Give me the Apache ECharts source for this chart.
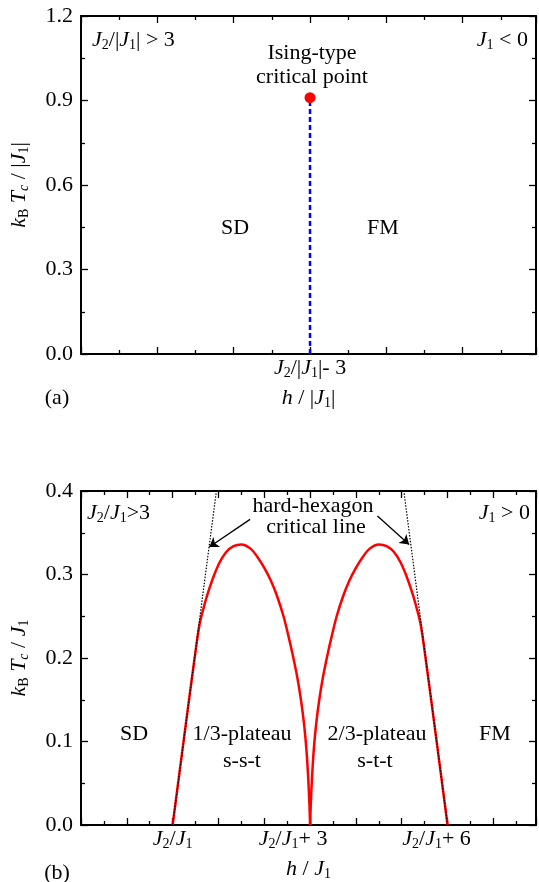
<!DOCTYPE html>
<html>
<head>
<meta charset="utf-8">
<script src="https://cdn.jsdelivr.net/npm/echarts@6/dist/echarts.min.js"></script>
<style>
  html, body { margin: 0; padding: 0; background: #fff; }
  #chart { width: 539px; height: 882px; }
</style>
</head>
<body>
<div id="chart"></div>
<script>
// ---- panel (a): J1 < 0, x in units of |J1| around J2/|J1| - 3 ----
const aRangeX = [0, 5.96];
const aRangeY = [0, 1.2];
const isingPoint = [[3, 0.91]];
const isingLine = [[3, 0], [3, 0.91]];
const aTickLabelX = { 3: '{i|J}{s|2}{n|/|}{i|J}{s|1}{n||- 3}' };

// ---- panel (b): J1 > 0, x measured from J2/J1 ----
const bRangeX = [-2, 7.93];
const bRangeY = [0, 0.4];
const domeLeft = [
  [0, 0], [0.25, 0.105], [0.48, 0.2], [0.59, 0.241], [0.7, 0.265], [0.8, 0.283],
  [0.91, 0.3], [1.03, 0.315], [1.17, 0.327], [1.33, 0.334], [1.5, 0.336], [1.7, 0.331],
  [1.85, 0.321], [2.0, 0.308], [2.14, 0.293], [2.28, 0.274], [2.42, 0.25], [2.52, 0.228],
  [2.62, 0.204], [2.72, 0.177], [2.8, 0.15], [2.87, 0.12], [2.92, 0.09], [2.96, 0.055],
  [2.985, 0.025], [3.0, 0]
];
const domeRight = [
  [3.0, 0], [3.015, 0.025], [3.04, 0.055], [3.08, 0.09], [3.13, 0.12], [3.2, 0.15],
  [3.28, 0.177], [3.38, 0.204], [3.48, 0.228], [3.58, 0.25], [3.72, 0.274], [3.86, 0.293],
  [4.0, 0.308], [4.15, 0.321], [4.3, 0.331], [4.5, 0.336], [4.67, 0.334], [4.83, 0.327],
  [4.97, 0.315], [5.09, 0.3], [5.2, 0.283], [5.3, 0.265], [5.41, 0.241], [5.52, 0.2],
  [5.75, 0.105], [6.0, 0]
];
const hexLineLeft = [[0, 0], [0.955, 0.4]];
const hexLineRight = [[6, 0], [5.045, 0.4]];
const arrowLeft = [[1.69, 0.366], [0.8, 0.333]];
const arrowRight = [[4.47, 0.37], [5.16, 0.336]];
const bTickLabelX = {
  0: '{i|J}{s|2}{n|/}{i|J}{s|1}',
  3: '{i|J}{s|2}{n|/}{i|J}{s|1}{n|+ 3}{g3| }',
  6: '{i|J}{s|2}{n|/}{i|J}{s|1}{n|+ 6}{g6| }'
};

const FONT = 'Liberation Serif';
const rich = {
  n: { fontFamily: FONT, fontSize: 22, color: '#000' },
  i: { fontFamily: FONT, fontSize: 22, fontStyle: 'italic', color: '#000' },
  s: { fontFamily: FONT, fontSize: 14, color: '#000', padding: [10, 0, 0, 0] },
  si: { fontFamily: FONT, fontSize: 14, fontStyle: 'italic', color: '#000', padding: [10, 0, 0, 0] },
  g3: { width: 34 },
  g6: { width: 22 }
};

const black = '#000';
const lineSt = { color: black, width: 2 };
const tickSt = { color: black, width: 1.3 };

function xAx(grid, range, pos, fmt, name) {
  return {
    gridIndex: grid, type: 'value', min: range[0], max: range[1], interval: 1,
    position: pos,
    axisLine: { onZero: false, lineStyle: lineSt },
    axisTick: { inside: true, length: 7, lineStyle: tickSt },
    minorTick: { show: true, splitNumber: 2, length: 4, lineStyle: tickSt },
    splitLine: { show: false },
    axisLabel: fmt ? { formatter: v => fmt[v] || '', rich: rich, margin: 2, hideOverlap: false,
                       showMinLabel: true, showMaxLabel: true } : { show: false },
    name: name || '', nameLocation: 'middle', nameGap: 32, nameTextStyle: { rich: rich }
  };
}
function yAx(grid, range, step, pos, showLabel, name) {
  return {
    gridIndex: grid, type: 'value', min: range[0], max: range[1], interval: step,
    position: pos,
    axisLine: { onZero: false, lineStyle: lineSt },
    axisTick: { inside: true, length: 7, lineStyle: tickSt },
    minorTick: { show: true, splitNumber: 2, length: 4, lineStyle: tickSt },
    splitLine: { show: false },
    axisLabel: showLabel ? { formatter: v => v.toFixed(1), fontFamily: FONT, fontSize: 22, color: black, margin: 8 } : { show: false },
    name: name || '', nameLocation: 'middle', nameGap: 50, nameTextStyle: { rich: rich }
  };
}

function txt(x, y, text, align) {
  return {
    type: 'text', x: x, y: y, z: 100,
    style: { text: text, rich: rich, align: align || 'center', verticalAlign: 'middle',
             font: '22px ' + FONT, fill: black }
  };
}

const chart = echarts.init(document.getElementById('chart'), null, { renderer: 'canvas' });
chart.setOption({
  backgroundColor: '#fff',
  animation: false,
  grid: [
    { left: 79, top: 16, width: 459, height: 338 },
    { left: 79, top: 491, width: 459, height: 338 }
  ],
  xAxis: [
    xAx(0, aRangeX, 'bottom', aTickLabelX, '{i|h}{n| / |}{i|J}{s|1}{n||}'),
    xAx(0, aRangeX, 'top'),
    xAx(1, bRangeX, 'bottom', bTickLabelX, '{i|h}{n| / }{i|J}{s|1}'),
    xAx(1, bRangeX, 'top')
  ],
  yAxis: [
    yAx(0, aRangeY, 0.3, 'left', true, '{i|k}{s|B}{n| }{i|T}{si|c}{n| / |}{i|J}{s|1}{n||}'),
    yAx(0, aRangeY, 0.3, 'right', false),
    yAx(1, bRangeY, 0.1, 'left', true, '{i|k}{s|B}{n| }{i|T}{si|c}{n| / }{i|J}{s|1}'),
    yAx(1, bRangeY, 0.1, 'right', false)
  ],
  series: [
    {
      type: 'line', xAxisIndex: 0, yAxisIndex: 0, data: isingLine, showSymbol: false,
      lineStyle: { color: '#0000ff', width: 2.5, type: [5, 3] }
    },
    {
      type: 'scatter', xAxisIndex: 0, yAxisIndex: 0, data: isingPoint, symbolSize: 11,
      itemStyle: { color: '#ff0000', opacity: 1 }, z: 5
    },
    {
      type: 'line', xAxisIndex: 2, yAxisIndex: 2, data: domeLeft, showSymbol: false,
      smooth: 0.3,
      lineStyle: { color: '#ff0000', width: 2.5 }
    },
    {
      type: 'line', xAxisIndex: 2, yAxisIndex: 2, data: domeRight, showSymbol: false,
      smooth: 0.3,
      lineStyle: { color: '#ff0000', width: 2.5 }
    },
    {
      type: 'line', xAxisIndex: 2, yAxisIndex: 2, data: hexLineLeft, showSymbol: false, z: 4,
      lineStyle: { color: black, width: 1.2, type: [1.5, 1.5] }
    },
    {
      type: 'line', xAxisIndex: 2, yAxisIndex: 2, data: hexLineRight, showSymbol: false, z: 4,
      lineStyle: { color: black, width: 1.2, type: [1.5, 1.5] }
    },
    {
      type: 'lines', coordinateSystem: 'cartesian2d', xAxisIndex: 2, yAxisIndex: 2, z: 5,
      symbol: ['none', 'arrow'], symbolSize: 9,
      lineStyle: { color: black, width: 1.3, opacity: 1 },
      data: [{ coords: arrowLeft }, { coords: arrowRight }]
    }
  ],
  graphic: [
    txt(92, 40, '{i|J}{s|2}{n|/|}{i|J}{s|1}{n|| > 3}', 'left'),
    txt(528, 40, '{i|J}{s|1}{n| < 0}', 'right'),
    txt(312, 53, '{n|Ising-type}'),
    txt(312, 77, '{n|critical point}'),
    txt(235, 228, '{n|SD}'),
    txt(383, 228, '{n|FM}'),
    txt(57, 398, '{n|(a)}'),
    txt(87, 513, '{i|J}{s|2}{n|/}{i|J}{s|1}{n|>3}', 'left'),
    txt(530, 513, '{i|J}{s|1}{n| > 0}', 'right'),
    txt(313, 506, '{n|hard-hexagon}'),
    txt(316, 527, '{n|critical line}'),
    txt(134, 734, '{n|SD}'),
    txt(242, 734, '{n|1/3-plateau}'),
    txt(242, 761, '{n|s-s-t}'),
    txt(377, 734, '{n|2/3-plateau}'),
    txt(375, 761, '{n|s-t-t}'),
    txt(495, 734, '{n|FM}'),
    txt(57, 873, '{n|(b)}')
  ]
});
</script>
</body>
</html>
